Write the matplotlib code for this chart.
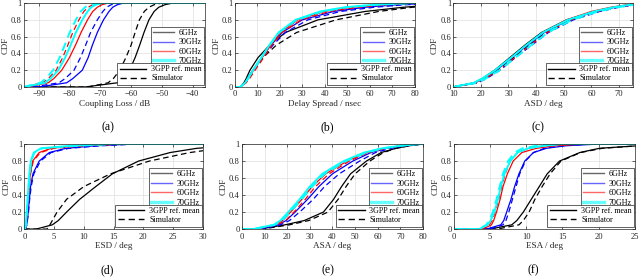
import numpy as np
import matplotlib.pyplot as plt
from matplotlib.lines import Line2D

plt.rcParams['font.family'] = ['Liberation Serif', 'DejaVu Serif']

LEVELS = [0, 0.05, 0.1, 0.2, 0.35, 0.5, 0.65, 0.8, 0.9, 0.95, 0.98, 1.0]
FREQS = ['6GHz', '30GHz', '60GHz', '70GHz']
COLORS = ['black', 'blue', 'red', 'cyan']

# rows: 6, 30, 60, 70 GHz ; REF = 3GPP ref. mean (solid), SIM = simulator (dashed)
CL_REF = [[-75, -64.5, -62.5, -60.5, -58.7, -57.2, -55.8, -54.2, -52.5, -51, -49, -46.5],
          [-90, -81, -79, -75.9, -74, -72.6, -71, -69, -67.2, -66, -64.5, -62.5],
          [-94, -87, -85.2, -82.6, -80.1, -78.1, -76.3, -74.2, -72.5, -71, -69.5, -67.5],
          [-95, -88, -86.3, -83.7, -81.5, -79.7, -78, -75.9, -74.2, -73, -71.5, -69.5]]
CL_SIM = [[-74, -67.5, -65.8, -63.7, -61.7, -60, -58.7, -57.3, -55.7, -54.2, -52.5, -50],
          [-92, -83.5, -81.5, -78.6, -76.5, -74.8, -73.2, -71, -69.2, -68, -66.5, -64],
          [-95, -88.8, -87, -84.4, -82.3, -80.6, -79, -77, -75.4, -74, -72.5, -70],
          [-95, -89.5, -87.8, -85.4, -83.3, -81.6, -80, -78, -76.4, -75, -73.5, -71]]

DS_REF = [[2.5, 4, 5, 6.7, 10.3, 15.5, 22.5, 37, 58, 75, 90, 110],
          [2.5, 4.5, 5.7, 8, 12, 16, 21, 30, 44, 58, 72, 90],
          [2.5, 4.6, 5.9, 8.3, 12.2, 16, 20.3, 28, 40, 52, 65, 80],
          [2.5, 4.5, 5.8, 8.1, 11.8, 15.4, 19.5, 27, 38, 49, 62, 78]]
DS_SIM = [[2.5, 4.5, 5.7, 8, 12.5, 18.5, 27.5, 45, 64, 79, 95, 120],
          [2.5, 4.7, 6, 8.5, 12.5, 17, 22.5, 32.5, 47, 62, 76, 95],
          [2.5, 5, 6.5, 9, 12.8, 16.5, 21, 29.5, 42, 55, 68, 82],
          [2.5, 4.5, 5.8, 8.1, 11.8, 15.5, 19.8, 27.5, 39, 50, 63, 80]]

ASD_REF = [[10, 17.5, 20.5, 25, 30.5, 36, 42, 51, 61, 68, 74, 82],
           [10, 18, 21, 25.7, 31.3, 37, 43, 52, 61.5, 68.5, 74, 82],
           [10, 17.8, 20.8, 25.3, 31, 36.5, 42.5, 51, 60, 67, 73, 80],
           [10, 17.5, 20.5, 25.2, 31, 36.5, 42.5, 51.5, 61, 68, 74, 82]]
ASD_SIM = [[10, 18.3, 21.3, 26, 31.8, 37.5, 43.5, 52.5, 62, 69, 75, 82],
           [10, 19, 22, 27, 32.5, 38.5, 44.5, 53.5, 63, 70, 76, 84],
           [10, 18.5, 21.5, 26.5, 32.3, 38, 44, 52.5, 62, 69, 75, 82],
           [10, 18.8, 21.8, 26.8, 32.5, 38.3, 44.3, 53, 62.5, 69.5, 75.5, 83]]

ESD_REF = [[2, 4.7, 5.7, 7.1, 9.3, 12, 14.8, 19.2, 24.5, 29, 35, 45],
           [0.2, 0.4, 0.5, 0.65, 0.85, 1.05, 1.45, 2.5, 4.2, 7, 12, 18],
           [0.1, 0.3, 0.35, 0.45, 0.6, 0.8, 1.0, 1.4, 2.5, 4.5, 9, 16],
           [0.1, 0.25, 0.3, 0.4, 0.55, 0.7, 0.85, 1.1, 1.6, 2.8, 8, 14]]
ESD_SIM = [[3.8, 4.3, 4.7, 5.5, 7.1, 10, 14.5, 21, 27.8, 33, 40, 50],
           [0.2, 0.42, 0.52, 0.7, 0.9, 1.15, 1.6, 2.7, 4.5, 7.5, 13, 19],
           [0.1, 0.3, 0.36, 0.47, 0.63, 0.83, 1.05, 1.5, 2.7, 5, 10, 17],
           [0.1, 0.25, 0.3, 0.42, 0.58, 0.73, 0.9, 1.15, 1.7, 3.0, 9, 15]]

ASA_REF = [[8, 19, 27.5, 36, 40.5, 44, 48, 55, 61.5, 68, 74, 80],
           [8, 16, 19.5, 23.5, 29, 34, 40, 49, 57, 64, 71, 79],
           [6, 14.5, 18, 21.5, 26.5, 31, 37, 46.5, 55, 63, 70, 78],
           [5, 14, 17, 20.5, 25.5, 30, 35.5, 45, 54, 62, 70, 78]]
ASA_SIM = [[9, 21, 29.5, 38, 42.5, 46, 50, 56.5, 62.5, 68, 74, 80],
           [8, 17, 21, 25.5, 31.5, 36.5, 43, 52, 59, 66, 72, 80],
           [6, 15.5, 19.3, 23, 28, 32.5, 38.5, 47.5, 56, 63.5, 70, 78],
           [5, 14.5, 17.8, 21.3, 26.3, 31, 36.5, 46, 55, 62.5, 70, 78]]

ESA_REF = [[5, 8, 8.7, 9.6, 10.7, 11.8, 12.9, 14.6, 17.4, 20.1, 25.5, 30],
           [4.5, 6.5, 6.9, 7.3, 7.9, 8.4, 9.0, 9.8, 11, 12.8, 15.5, 20],
           [4, 5.2, 5.5, 5.9, 6.4, 6.8, 7.4, 8.2, 9.4, 11.4, 14, 18],
           [3.5, 4.7, 5.1, 5.6, 6.1, 6.5, 7.0, 7.8, 8.8, 10.3, 12.5, 15]]
ESA_SIM = [[6, 9, 9.6, 10.4, 11.2, 12.2, 13.3, 14.8, 17.5, 20.5, 25.5, 30],
           [5, 6.8, 7.2, 7.6, 8.1, 8.6, 9.1, 9.9, 11, 12.5, 15, 19],
           [3.8, 4.9, 5.3, 5.7, 6.2, 6.6, 7.1, 7.8, 8.8, 10.3, 12.5, 16],
           [3.5, 4.5, 4.9, 5.4, 5.9, 6.35, 6.8, 7.5, 8.4, 9.5, 11.5, 13]]


def plot_panel(ax, ref, sim, xlim, xticks, xlabel):
    """Draws the 8 CDF curves of one panel with both legends."""
    for i in range(4):
        lw = 1.4 if i == 3 else 0.9
        for q, ls in ((ref[i], '-'), (sim[i], '--')):
            x = np.r_[min(xlim[0], q[0]), q, max(xlim[1], q[-1])]
            y = np.r_[0, LEVELS, 1]
            line, = ax.plot(x, y, color=COLORS[i], lw=lw, ls=ls)
            if ls == '--':
                line.set_dashes((4.5, 2.8))
    ax.set_xlim(xlim)
    ax.set_ylim(0, 1)
    ax.set_xticks(xticks)
    ax.set_yticks([0, 0.2, 0.4, 0.6, 0.8, 1])
    ax.set_yticklabels(['0', '0.2', '0.4', '0.6', '0.8', '1'])
    ax.grid(True, color='#dedede', lw=0.5)
    ax.set_axisbelow(True)
    ax.tick_params(direction='in', length=2, width=0.5, labelsize=6.1,
                   top=True, right=True, colors='#262626')
    ax.tick_params(axis='x', pad=2.5)
    ax.tick_params(axis='y', pad=1.5)
    for s in ax.spines.values():
        s.set_linewidth(0.5)
        s.set_color('#262626')
    ax.set_xlabel(xlabel, fontsize=6.6, labelpad=1.2, color='#262626')
    ax.set_ylabel('CDF', fontsize=6.4, labelpad=0.8, color='#262626')

    freq_handles = [Line2D([], [], color=c, lw=2.4 if c == 'cyan' else 1.0, alpha=0.6)
                    for c in COLORS]
    leg1 = ax.legend(freq_handles, FREQS, loc='upper right', bbox_to_anchor=(0.997, 0.72),
                     borderaxespad=0, fontsize=5.8, handlelength=2.6, labelspacing=0.18,
                     borderpad=0.3, handletextpad=0.6, fancybox=False, framealpha=1,
                     edgecolor='#262626')
    leg1.get_frame().set_linewidth(0.5)
    ax.add_artist(leg1)
    type_handles = [Line2D([], [], color='black', lw=1.0),
                    Line2D([], [], color='black', lw=1.0, ls='--', dashes=(4.5, 2.8))]
    leg2 = ax.legend(type_handles, ['3GPP ref. mean', 'Simulator'], loc='upper right',
                     bbox_to_anchor=(0.997, 0.285), borderaxespad=0, fontsize=5.8,
                     handlelength=3.3, labelspacing=0.12, borderpad=0.3, handletextpad=0.6,
                     fancybox=False, framealpha=1, edgecolor='#262626')
    leg2.get_frame().set_linewidth(0.5)


fig = plt.figure(figsize=(6.4, 2.77), dpi=100)

panels = [
    ([0.037, 0.686, 0.283, 0.303], CL_REF, CL_SIM, (-95, -36), range(-90, -39, 10), 'Coupling Loss / dB'),
    ([0.367, 0.686, 0.281, 0.303], DS_REF, DS_SIM, (0, 80), range(0, 81, 10), 'Delay Spread / nsec'),
    ([0.708, 0.686, 0.281, 0.303], ASD_REF, ASD_SIM, (10, 75), range(10, 71, 10), 'ASD / deg'),
    ([0.038, 0.173, 0.279, 0.307], ESD_REF, ESD_SIM, (0, 30), range(0, 31, 5), 'ESD / deg'),
    ([0.378, 0.173, 0.283, 0.307], ASA_REF, ASA_SIM, (0, 80), range(0, 81, 10), 'ASA / deg'),
    ([0.709, 0.173, 0.283, 0.307], ESA_REF, ESA_SIM, (0, 25), range(0, 26, 5), 'ESA / deg'),
]
for rect, ref, sim, xlim, xticks, xlabel in panels:
    ax = fig.add_axes(rect)
    plot_panel(ax, ref, sim, xlim, xticks, xlabel)

captions = ['(a)', '(b)', '(c)', '(d)', '(e)', '(f)']
cap_x = [0.168, 0.512, 0.840, 0.168, 0.512, 0.833]
cap_y = [0.542, 0.542, 0.542, 0.025, 0.025, 0.025]
for txt, cx, cy in zip(captions, cap_x, cap_y):
    fig.text(cx, cy, txt, ha='center', va='center', fontsize=8.5)

fig.savefig('out.png', dpi=100)
